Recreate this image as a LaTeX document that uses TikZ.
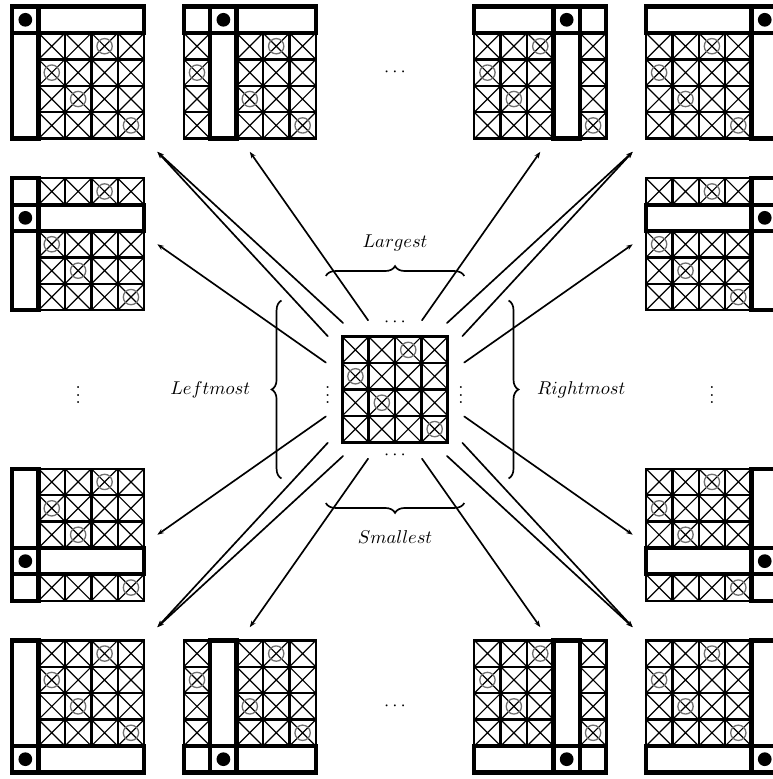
\documentclass[tikz,border=0pt]{standalone}
\usetikzlibrary{arrows.meta}
\usetikzlibrary{decorations.pathreplacing}
\definecolor{mxink}{HTML}{000000}
\definecolor{mxgray}{HTML}{707070}
\tikzset{
  mxgrid/.style={draw=mxink, line width=1.3pt},
  mxcross/.style={draw=mxink, line width=0.65pt},
  mxcircle/.style={draw=mxgray, line width=0.7pt},
  mxpad/.style={draw=mxink, line width=2.3pt},
  mxframe/.style={rectangle, minimum size=2.5cm, inner sep=0pt, outer sep=0.25cm},
  fanarrow/.style={-{Stealth[length=3.5pt, width=2.6pt]}, draw=mxink,
    line width=0.9pt, line cap=round},
  mxbrace/.style={decorate, decoration={brace, amplitude=5.3pt},
    draw=mxink, line width=0.9pt},
}

% one crossed cell, top-left corner at (#1,#2)
\newcommand{\xcell}[2]{%
  \draw[mxgrid] (#1,#2) rectangle ++(1,-1);
  \draw[mxcross] (#1,#2) -- ++(1,-1) (#1+1,#2) -- ++(-1,-1);
}

% 5x5 matrix: name, centre x, centre y, padded row, padded column
\newcommand{\padmat}[5]{%
  \node[mxframe] (#1) at (#2,#3) {};
  \begin{scope}[shift={(#2-2.5,#3+2.5)}]
    \foreach \i in {0,...,4} {
      \foreach \j in {0,...,4} {
        \ifnum\i=#4\relax\else\ifnum\j=#5\relax\else
          \pgfmathtruncatemacro\orow{\i-(\i>#4)}
          \pgfmathtruncatemacro\ocol{\j-(\j>#5)}
          \pgfmathtruncatemacro\ohit{{2,0,1,3}[\orow]}
          \xcell{\j}{-\i}
          \ifnum\ocol=\ohit\relax
            \draw[mxcircle] (\j+0.5,-\i-0.5) circle[radius=0.29];
          \fi
        \fi\fi
      }
    }
    % padded row and column
    \draw[mxpad] (#5,-#4) rectangle ++(1,-1);
    \fill[mxink] (#5+0.5,-#4-0.5) circle[radius=0.26];
    \ifnum#5>0 \draw[mxpad] (0,-#4) rectangle (#5,-#4-1); \fi
    \ifnum#5<4 \draw[mxpad] (#5+1,-#4) rectangle (5,-#4-1); \fi
    \ifnum#4>0 \draw[mxpad] (#5,0) rectangle (#5+1,-#4); \fi
    \ifnum#4<4 \draw[mxpad] (#5,-#4-1) rectangle (#5+1,-5); \fi
  \end{scope}
}

\begin{document}
\begin{tikzpicture}[x=0.5cm, y=0.5cm]
\useasboundingbox (-14.96,-14.75) rectangle (14.28,14.75);

% The original 4x4 matrix.
\node[mxframe, minimum size=2cm, outer sep=0pt] (core) at (0,0) {};
\begin{scope}[shift={(-2,2)}]
  \foreach \i in {0,...,3} {
    \foreach \j in {0,...,3} {
      \xcell{\j}{-\i}
    }
  }
  \foreach \i/\j in {0/2,1/0,2/1,3/3}
    \draw[mxcircle] (\j+0.5,-\i-0.5) circle[radius=0.29];
\end{scope}
\draw[mxgrid, line width=1.7pt] (core.north west) rectangle (core.south east);

\node (coreN) at (0,2.55) {$\cdots$};
\node (coreS) at (0,-2.5) {$\cdots$};
\node (coreW) at (-2.55,0) {$\vdots$};
\node (coreE) at (2.5,0) {$\vdots$};

% Braces and their labels.
\draw[mxbrace] ([shift={(-0.62,2.3)}]core.north west)
  -- ([shift={(0.62,2.3)}]core.north east);
\node (largest) at (0,5.55) {$Largest$};
\draw[mxbrace] ([shift={(0.62,-2.3)}]core.south east)
  -- ([shift={(-0.62,-2.3)}]core.south west);
\node (smallest) at (0,-5.59) {$Smallest$};
\draw[mxbrace] ([shift={(-2.3,-1.37)}]core.south west)
  -- ([shift={(-2.3,1.37)}]core.north west);
\node (leftmost) at (-7.0,0) {$Leftmost$};
\draw[mxbrace] ([shift={(2.3,1.37)}]core.north east)
  -- ([shift={(2.3,-1.37)}]core.south east);
\node (rightmost) at (7.05,0) {$Rightmost$};

% Padded matrices, named by padded row and column.
\padmat{m00}{-12}{12}{0}{0}
\padmat{m01}{-5.5}{12}{0}{1}
\padmat{m03}{5.5}{12}{0}{3}
\padmat{m04}{12}{12}{0}{4}
\padmat{m10}{-12}{5.5}{1}{0}
\padmat{m30}{-12}{-5.5}{3}{0}
\padmat{m40}{-12}{-12}{4}{0}
\padmat{m41}{-5.5}{-12}{4}{1}
\padmat{m43}{5.5}{-12}{4}{3}
\padmat{m44}{12}{-12}{4}{4}
\padmat{m14}{12}{5.5}{1}{4}
\padmat{m34}{12}{-5.5}{3}{4}

\node (dotsN) at (0,12) {$\cdots$};
\node (dotsS) at (0,-12) {$\cdots$};
\node (dotsW) at (-12,0) {$\vdots$};
\node (dotsE) at (12,0) {$\vdots$};

% Upper left.
\draw[fanarrow] ([shift={(0.03,0.52)}]core.north west) -- (m00.south east);
\draw[fanarrow] ([shift={(-0.55,0.02)}]core.north west) -- (m00.south east);
\draw[fanarrow] ([shift={(-1.02,0.62)}]core.north) -- (m01.south);
\draw[fanarrow] ([shift={(-0.62,1.02)}]core.west) -- (m10.east);

% Upper right.
\draw[fanarrow] ([shift={(-0.03,0.52)}]core.north east) -- (m04.south west);
\draw[fanarrow] ([shift={(0.55,0.02)}]core.north east) -- (m04.south west);
\draw[fanarrow] ([shift={(1.02,0.62)}]core.north) -- (m03.south);
\draw[fanarrow] ([shift={(0.62,1.02)}]core.east) -- (m14.west);

% Lower left.
\draw[fanarrow] ([shift={(0.03,-0.52)}]core.south west) -- (m40.north east);
\draw[fanarrow] ([shift={(-0.55,-0.02)}]core.south west) -- (m40.north east);
\draw[fanarrow] ([shift={(-1.02,-0.62)}]core.south) -- (m41.north);
\draw[fanarrow] ([shift={(-0.62,-1.02)}]core.west) -- (m30.east);

% Lower right.
\draw[fanarrow] ([shift={(-0.03,-0.52)}]core.south east) -- (m44.north west);
\draw[fanarrow] ([shift={(0.55,-0.02)}]core.south east) -- (m44.north west);
\draw[fanarrow] ([shift={(1.02,-0.62)}]core.south) -- (m43.north);
\draw[fanarrow] ([shift={(0.62,-1.02)}]core.east) -- (m34.west);

\end{tikzpicture}
\end{document}
